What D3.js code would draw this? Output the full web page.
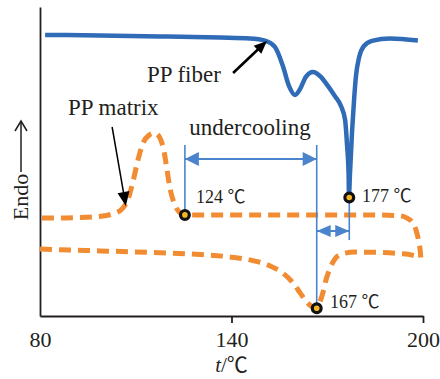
<!DOCTYPE html>
<html>
<head>
<meta charset="utf-8">
<script src="https://cdn.jsdelivr.net/npm/d3@7"></script>
<style>
  body { margin: 0; background: #fff; }
  svg text { font-family: "Liberation Serif", "Times New Roman", "Noto Sans CJK SC", serif; fill: #231f20; }
</style>
</head>
<body>
<svg id="chart" width="440" height="379"></svg>
<script>
// DSC traces (t in degC, heat flow in arbitrary units)
const fiberT = [81.6, 98.8, 117.6, 136.4, 145.8, 150.5, 153.6, 156.1, 158.0, 159.9, 161.5, 163.3, 165.5, 167.7, 170.2, 172.4, 174.3, 175.6, 176.2, 176.7, 176.8, 177.1, 177.8, 178.4, 179.0, 180.0, 181.5, 184.0, 189.7, 198.4];
const fiberV = [93.7, 93.5, 93.2, 92.8, 92.5, 91.8, 89.7, 83.3, 76.7, 73.7, 75.7, 79.7, 81.3, 80.0, 76.7, 73.3, 70.0, 65.3, 57.0, 47.0, 39.7, 47.0, 62.0, 72.0, 80.0, 86.3, 90.0, 91.7, 92.5, 91.8];

const matrixUpT = [80.6, 86.3, 92.5, 98.8, 102.6, 105.7, 107.6, 109.1, 110.7, 112.3, 114.2, 116.0, 117.6, 118.9, 119.8, 120.7, 122.0, 123.6, 125.4, 139.5, 161.5, 180.3, 192.2, 194.7, 196.6, 197.8, 198.7, 199.2, 199.4];
const matrixUpV = [32.7, 32.7, 32.8, 33.2, 34.0, 35.7, 39.0, 44.7, 52.0, 57.7, 60.3, 61.0, 59.3, 54.7, 48.7, 42.7, 37.7, 34.7, 33.7, 33.7, 33.7, 33.7, 33.5, 32.8, 31.3, 28.7, 24.7, 21.0, 18.0];

const matrixLowT = [80.0, 89.4, 98.8, 114.5, 130.1, 139.5, 147.4, 152.1, 156.1, 159.3, 161.5, 163.3, 164.9, 166.6, 167.7, 168.7, 169.6, 170.9, 172.4, 174.6, 178.7, 186.5, 192.8, 196.6, 198.7];
const matrixLowV = [22.3, 22.0, 21.7, 21.2, 20.5, 19.7, 18.3, 16.7, 14.3, 11.0, 7.7, 5.0, 3.3, 2.5, 4.7, 8.0, 12.0, 16.0, 19.0, 20.7, 21.3, 21.2, 20.8, 20.3, 19.7];

// marked peaks
const peakT = [125.4, 176.9, 166.7];
const peakV = [33.7, 39.5, 2.6];
const peakLabels = ["124 ℃", "177 ℃", "167 ℃"];

const xTicks = [80, 140, 200];

const svg = d3.select('#chart');
const x = d3.scaleLinear().domain([80, 200]).range([40, 423]);
const y = d3.scaleLinear().domain([0, 103]).range([316, 7]);

const ink = '#231f20';
const blue = '#2f6bb6';
const guide = '#4a84cc';
const orange = '#f28c33';

// axes
const xAxis = svg.append('g')
  .attr('transform', `translate(0, ${y(0)})`)
  .call(d3.axisBottom(x).tickValues(xTicks).tickSizeInner(7).tickSizeOuter(0).tickPadding(8));
xAxis.selectAll('.tick line').filter(d => d === 80).remove();
xAxis.selectAll('path, line').attr('stroke', ink).attr('stroke-width', 1.8);
xAxis.selectAll('text').style('font-size', '22px').attr('fill', ink);

const yAxis = svg.append('g')
  .attr('transform', `translate(${x(80)}, 0)`)
  .call(d3.axisLeft(y).tickValues([]).tickSizeOuter(0));
yAxis.select('path').attr('stroke', ink).attr('stroke-width', 1.8);

// axis titles
const xt = svg.append('text')
  .attr('x', x(140)).attr('y', 372)
  .attr('text-anchor', 'middle')
  .style('font-size', '21px');
xt.append('tspan').style('font-style', 'italic').text('t');
xt.append('tspan').text('/℃');

svg.append('text')
  .attr('transform', 'translate(28, 197) rotate(-90)')
  .attr('text-anchor', 'middle')
  .style('font-size', '22px')
  .text('Endo');
svg.append('line')
  .attr('x1', 21).attr('x2', 21).attr('y1', 172).attr('y2', 121)
  .attr('stroke', ink).attr('stroke-width', 1.5);
svg.append('path')
  .attr('d', 'M15,131 L21,121 L27,131')
  .attr('fill', 'none').attr('stroke', ink).attr('stroke-width', 1.5);

// curves
const line = d3.line()
  .x(d => x(d[0]))
  .y(d => y(d[1]))
  .curve(d3.curveMonotoneX);

const zip = (a, b) => a.map((v, i) => [v, b[i]]);

svg.append('path')
  .datum(zip(matrixLowT, matrixLowV))
  .attr('fill', 'none').attr('stroke', orange).attr('stroke-width', 5)
  .attr('stroke-dasharray', '12,7')
  .attr('d', line);

svg.append('path')
  .datum(zip(matrixUpT, matrixUpV))
  .attr('fill', 'none').attr('stroke', orange).attr('stroke-width', 5)
  .attr('stroke-dasharray', '12,7')
  .attr('d', line);

svg.append('path')
  .datum(zip(fiberT, fiberV))
  .attr('fill', 'none').attr('stroke', blue).attr('stroke-width', 4.5)
  .attr('stroke-linejoin', 'round')
  .attr('d', line);

// filled triangle with its tip at (tx, ty) pointing along angle (radians)
function arrowHead(g, tx, ty, angle, len, half, color) {
  const bx = tx - len * Math.cos(angle), by = ty - len * Math.sin(angle);
  const nx = -Math.sin(angle) * half, ny = Math.cos(angle) * half;
  g.append('path')
    .attr('d', `M${tx},${ty} L${bx + nx},${by + ny} L${bx - nx},${by - ny} Z`)
    .attr('fill', color);
}

// undercooling guides
const guides = svg.append('g');
const guideTop = 57;
[[peakT[0], guideTop, peakV[0]], [peakT[2], guideTop, peakV[2]], [peakT[1], peakV[1], 25.3]].forEach(g => {
  guides.append('line')
    .attr('x1', x(g[0])).attr('x2', x(g[0]))
    .attr('y1', y(g[1])).attr('y2', y(g[2]))
    .attr('stroke', guide).attr('stroke-width', 1.6);
});

function doubleArrow(t0, t1, v, len, half) {
  const yy = y(v);
  guides.append('line')
    .attr('x1', x(t0)).attr('x2', x(t1)).attr('y1', yy).attr('y2', yy)
    .attr('stroke', guide).attr('stroke-width', 2);
  arrowHead(guides, x(t0), yy, Math.PI, len, half, guide);
  arrowHead(guides, x(t1), yy, 0, len, half, guide);
}
doubleArrow(peakT[0], peakT[2], 52.3, 14, 7);
doubleArrow(peakT[2], peakT[1], 28.3, 14, 6);

svg.append('text')
  .attr('x', x(145.8)).attr('y', y(60.3))
  .attr('text-anchor', 'middle')
  .style('font-size', '23px')
  .text('undercooling');

// peak markers
svg.append('g').selectAll('circle')
  .data(peakT)
  .join('circle')
  .attr('cx', d => x(d))
  .attr('cy', (d, i) => y(peakV[i]))
  .attr('r', 4.4)
  .attr('fill', '#f6b526')
  .attr('stroke', '#111')
  .attr('stroke-width', 3.2);

const labelT = [128.9, 180.9, 170.9];
const labelV = [37.7, 38.0, 2.7];
svg.append('g').selectAll('text')
  .data(peakLabels)
  .join('text')
  .attr('x', (d, i) => x(labelT[i]))
  .attr('y', (d, i) => y(labelV[i]))
  .style('font-size', '18px')
  .text(d => d);

// curve labels with pointers
svg.append('text')
  .attr('x', x(113.5)).attr('y', y(78))
  .style('font-size', '23px')
  .text('PP fiber');
svg.append('text')
  .attr('x', x(88.8)).attr('y', y(67))
  .style('font-size', '23px')
  .text('PP matrix');

function pointer(t0, v0, t1, v1, w, len, half) {
  const x0 = x(t0), y0 = y(v0), x1 = x(t1), y1 = y(v1);
  const a = Math.atan2(y1 - y0, x1 - x0);
  svg.append('line')
    .attr('x1', x0).attr('y1', y0)
    .attr('x2', x1 - (len - 2) * Math.cos(a)).attr('y2', y1 - (len - 2) * Math.sin(a))
    .attr('stroke', '#000').attr('stroke-width', w);
  arrowHead(svg, x1, y1, a, len, half, '#000');
}
pointer(140.5, 81.0, 151.1, 91.7, 2.6, 13, 5.5);
pointer(102.6, 63.0, 106.9, 36.7, 1.5, 14, 6);
</script>
</body>
</html>
